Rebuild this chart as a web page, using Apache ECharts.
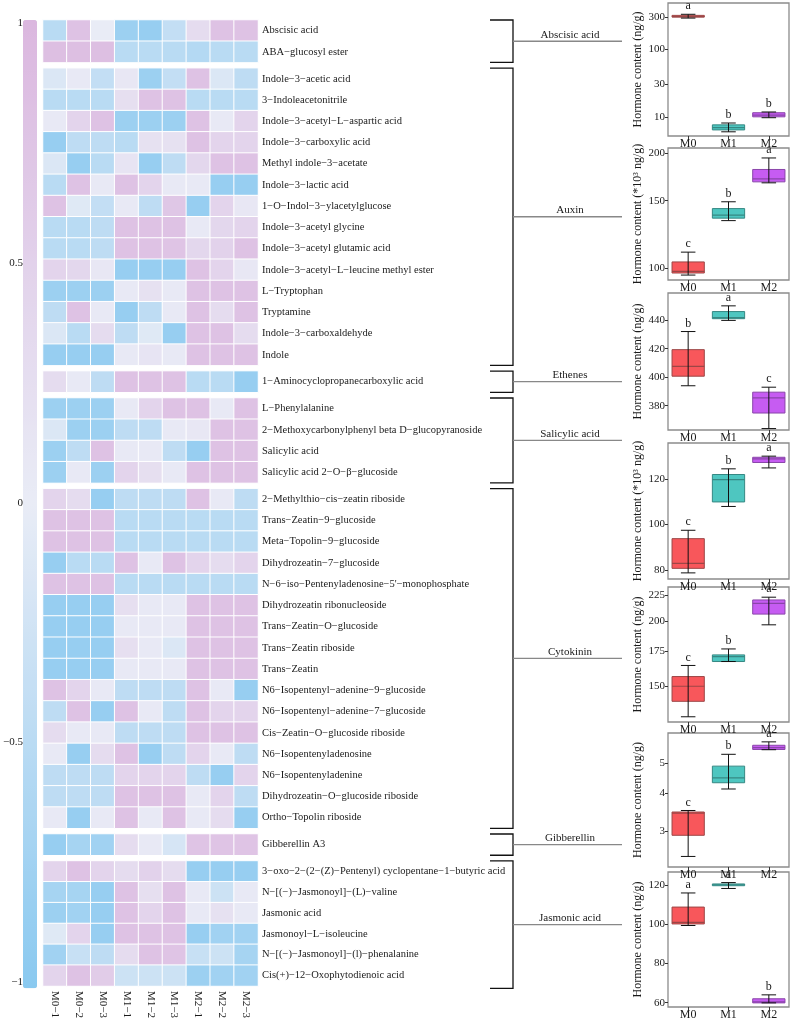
<!DOCTYPE html>
<html>
<head>
<meta charset="UTF-8">
<script src="https://cdn.jsdelivr.net/npm/echarts@6/dist/echarts.min.js"></script>
</head>
<body style="margin:0;background:#fff;">
<div id="main" style="width:792px;height:1021px"></div>
<script>
// ---- heatmap data ----
var samples = ['M0−1', 'M0−2', 'M0−3', 'M1−1', 'M1−2', 'M1−3', 'M2−1', 'M2−2', 'M2−3'];
var groups = ['Abscisic acid', 'Auxin', 'Ethenes', 'Salicylic acid', 'Cytokinin', 'Gibberellin', 'Jasmonic acid'];

var abaNames = ['Abscisic acid', 'ABA−glucosyl ester'];
var abaValues = [
  [-0.5, 0.8, 0.0, -0.8, -0.85, -0.4, 0.3, 0.8, 0.8],
  [0.85, 0.85, 0.85, -0.5, -0.5, -0.5, -0.55, -0.5, -0.5]
];
var auxinNames = ['Indole−3−acetic acid', '3−Indoleacetonitrile', 'Indole−3−acetyl−L−aspartic acid',
  'Indole−3−carboxylic acid', 'Methyl indole−3−acetate', 'Indole−3−lactic acid', '1−O−Indol−3−ylacetylglucose',
  'Indole−3−acetyl glycine', 'Indole−3−acetyl glutamic acid', 'Indole−3−acetyl−L−leucine methyl ester',
  'L−Tryptophan', 'Tryptamine', 'Indole−3−carboxaldehyde', 'Indole'];
var auxinValues = [
  [-0.15, 0.05, -0.4, 0.1, -0.8, -0.4, 0.8, -0.15, -0.45],
  [-0.5, -0.5, -0.5, 0.25, 0.8, 0.8, -0.5, -0.5, -0.5],
  [0.05, 0.45, 0.8, -0.8, -0.8, -0.8, 0.8, 0.05, 0.45],
  [-0.85, -0.45, -0.45, -0.5, 0.2, 0.2, 0.8, 0.45, 0.45],
  [-0.15, -0.85, -0.5, 0.15, -0.85, -0.45, 0.4, 0.8, 0.8],
  [-0.5, 0.8, 0.05, 0.8, 0.45, 0.05, 0.05, -0.85, -0.85],
  [0.8, -0.1, -0.4, 0.05, -0.45, 0.7, -0.85, 0.45, 0.1],
  [-0.5, -0.5, -0.45, 0.8, 0.8, 0.8, 0.05, 0.4, 0.45],
  [-0.5, -0.5, -0.45, 0.8, 0.8, 0.75, 0.4, 0.5, 0.8],
  [0.45, 0.4, 0.1, -0.85, -0.85, -0.85, 0.8, 0.45, 0.1],
  [-0.8, -0.8, -0.8, 0.05, 0.2, 0.05, 0.8, 0.8, 0.8],
  [-0.45, 0.8, 0.05, -0.85, -0.45, 0.05, 0.8, 0.3, 0.8],
  [-0.15, -0.5, 0.3, -0.45, -0.1, -0.85, 0.8, 0.8, 0.3],
  [-0.85, -0.85, -0.85, 0.05, 0.15, 0.05, 0.8, 0.8, 0.8]
];
var ethNames = ['1−Aminocyclopropanecarboxylic acid'];
var ethValues = [
  [0.3, 0.05, -0.45, 0.8, 0.8, 0.8, -0.5, -0.5, -0.85]
];
var saNames = ['L−Phenylalanine', '2−Methoxycarbonylphenyl beta D−glucopyranoside', 'Salicylic acid',
  'Salicylic acid 2−O−β−glucoside'];
var saValues = [
  [-0.8, -0.8, -0.8, 0.05, 0.45, 0.8, 0.8, 0.05, 0.8],
  [-0.15, -0.8, -0.8, -0.45, -0.45, 0.05, 0.1, 0.8, 0.8],
  [-0.8, -0.45, 0.8, 0.05, 0.05, -0.45, -0.85, 0.8, 0.8],
  [-0.8, 0.05, -0.8, 0.45, 0.25, 0.05, 0.8, 0.8, 0.8]
];
var ckNames = ['2−Methylthio−cis−zeatin riboside', 'Trans−Zeatin−9−glucoside', 'Meta−Topolin−9−glucoside',
  'Dihydrozeatin−7−glucoside', 'N−6−iso−Pentenyladenosine−5\'−monophosphate', 'Dihydrozeatin ribonucleoside',
  'Trans−Zeatin−O−glucoside', 'Trans−Zeatin riboside', 'Trans−Zeatin', 'N6−Isopentenyl−adenine−9−glucoside',
  'N6−Isopentenyl−adenine−7−glucoside', 'Cis−Zeatin−O−glucoside riboside', 'N6−Isopentenyladenosine',
  'N6−Isopentenyladenine', 'Dihydrozeatin−O−glucoside riboside', 'Ortho−Topolin riboside'];
var ckValues = [
  [0.45, 0.3, -0.85, -0.45, -0.45, -0.45, 0.8, 0.05, -0.45],
  [0.8, 0.8, 0.8, -0.5, -0.5, -0.5, -0.5, -0.5, -0.5],
  [0.8, 0.8, 0.8, -0.5, -0.5, -0.5, -0.5, -0.5, -0.5],
  [-0.85, -0.5, -0.5, 0.8, 0.05, 0.8, 0.45, 0.3, 0.45],
  [0.8, 0.8, 0.8, -0.5, -0.5, -0.5, -0.5, -0.5, -0.5],
  [-0.85, -0.85, -0.85, 0.25, 0.05, 0.05, 0.8, 0.8, 0.8],
  [-0.85, -0.85, -0.85, 0.05, 0.05, 0.05, 0.8, 0.8, 0.8],
  [-0.85, -0.85, -0.85, 0.25, 0.05, -0.15, 0.8, 0.8, 0.8],
  [-0.85, -0.85, -0.85, 0.05, 0.05, 0.05, 0.8, 0.8, 0.8],
  [0.8, 0.45, 0.05, -0.45, -0.45, -0.45, 0.8, 0.05, -0.85],
  [-0.45, 0.8, -0.85, 0.8, 0.05, -0.45, 0.8, 0.45, 0.45],
  [0.3, 0.05, 0.05, -0.45, -0.45, -0.45, 0.8, 0.8, 0.8],
  [0.05, -0.85, 0.3, 0.8, -0.85, -0.45, 0.45, 0.05, -0.45],
  [-0.45, -0.45, -0.45, 0.45, 0.45, 0.45, -0.45, -0.85, 0.45],
  [-0.45, -0.45, -0.45, 0.8, 0.8, 0.8, 0.05, 0.45, -0.45],
  [0.05, -0.85, 0.05, 0.8, 0.05, 0.8, 0.05, 0.3, -0.85]
];
var gaNames = ['Gibberellin A3'];
var gaValues = [
  [-0.85, -0.7, -0.75, 0.3, 0.05, -0.2, 0.75, 0.75, 0.75]
];
var jaNames = ['3−oxo−2−(2−(Z)−Pentenyl) cyclopentane−1−butyric acid', 'N−[(−)−Jasmonoyl]−(L)−valine',
  'Jasmonic acid', 'Jasmonoyl−L−isoleucine', 'N−[(−)−Jasmonoyl]−(l)−phenalanine', 'Cis(+)−12−Oxophytodienoic acid'];
var jaValues = [
  [0.45, 0.8, 0.45, 0.3, 0.5, 0.3, -0.85, -0.85, -0.85],
  [-0.7, -0.7, -0.85, 0.8, 0.25, 0.8, 0.05, -0.3, 0.05],
  [-0.8, -0.75, -0.85, 0.8, 0.45, 0.8, 0.05, 0.2, 0.05],
  [-0.1, 0.45, -0.85, 0.8, 0.8, 0.8, -0.85, -0.75, -0.75],
  [-0.75, -0.35, -0.45, 0.3, 0.8, 0.75, -0.35, -0.3, -0.7],
  [0.45, 0.8, 0.6, -0.3, -0.3, -0.3, -0.8, -0.75, -0.75]
];

// ---- box plot data: [min, Q1, median, Q3, max] for M0, M1, M2 ----
var treatments = ['M0', 'M1', 'M2'];
var abaBox = [[290, 300, 305, 318, 330], [6.0, 6.4, 6.9, 7.6, 8.1], [9.7, 10.0, 10.6, 11.5, 11.8]];
var auxinBox = [[95.8, 97, 98, 103.7, 110], [133, 135, 137.5, 143, 149], [167, 168, 171, 181, 194]];
var ethBox = [[394, 400.7, 407.6, 419.3, 432], [439.8, 441, 441.7, 446, 450], [364, 374.9, 385.5, 389.5, 393]];
var saBox = [[78.7, 80.7, 82.9, 93.8, 97.5], [108, 110, 119.8, 122.1, 124.6], [125, 127.4, 129, 129.7, 130.2]];
var ckBox = [[131, 140.3, 150, 156.6, 164.5], [167.4, 167.4, 171, 172.4, 177], [197, 206.6, 216.7, 220, 222.7]];
var gaBox = [[2.47, 2.9, 3.43, 3.46, 3.5], [4.12, 4.32, 4.48, 4.9, 5.36], [5.55, 5.56, 5.64, 5.74, 5.89]];
var jaBox = [[99.4, 100.2, 101, 108.8, 116], [118.3, 119.7, 120.2, 120.6, 121.3], [59.9, 59.9, 60.4, 62, 64]];
var abaLetters = ['a', 'b', 'b'];
var auxinLetters = ['c', 'b', 'a'];
var ethLetters = ['b', 'a', 'c'];
var saLetters = ['c', 'b', 'a'];
var ckLetters = ['c', 'b', 'a'];
var gaLetters = ['c', 'b', 'a'];
var jaLetters = ['a', 'a', 'b'];
var abaTicks = [10, 30, 100, 300];
var auxinTicks = [100, 150, 200];
var ethTicks = [380, 400, 420, 440];
var saTicks = [80, 100, 120];
var ckTicks = [150, 175, 200, 225];
var gaTicks = [3, 4, 5];
var jaTicks = [60, 80, 100, 120];

// ---- layout ----
var FONT = '"Liberation Serif", "Times New Roman", serif';
var heatLeft = 43, heatW = 215, heatTop = 20, rowH = 21.23, gapH = 5.7;
var heatGroups = [
  [abaNames, abaValues], [auxinNames, auxinValues], [ethNames, ethValues], [saNames, saValues],
  [ckNames, ckValues], [gaNames, gaValues], [jaNames, jaValues]
];
var boxPanels = [
  {box: abaBox, letters: abaLetters, ticks: abaTicks, log: true, min: 5.2, max: 485, name: 'Hormone content (ng/g)', top: 3, h: 133},
  {box: auxinBox, letters: auxinLetters, ticks: auxinTicks, log: true, min: 93, max: 206, name: 'Hormone content (*10³ ng/g)', top: 148, h: 132},
  {box: ethBox, letters: ethLetters, ticks: ethTicks, log: false, min: 363, max: 459, name: 'Hormone content (ng/g)', top: 293, h: 137},
  {box: saBox, letters: saLetters, ticks: saTicks, log: false, min: 76, max: 136, name: 'Hormone content (*10³ ng/g)', top: 443, h: 136},
  {box: ckBox, letters: ckLetters, ticks: ckTicks, log: true, min: 128, max: 233, name: 'Hormone content (ng/g)', top: 587, h: 135},
  {box: gaBox, letters: gaLetters, ticks: gaTicks, log: true, min: 2.28, max: 6.3, name: 'Hormone content (ng/g)', top: 733, h: 134},
  {box: jaBox, letters: jaLetters, ticks: jaTicks, log: false, min: 57.8, max: 126.7, name: 'Hormone content (ng/g)', top: 872, h: 138}
];
var boxFill = ['#F8575B', '#4EC6C0', '#C65CF2'];
var boxLine = ['#9c4646', '#368883', '#8a45aa'];

var grids = [], xAxes = [], yAxes = [], series = [], graphics = [];
var y = heatTop, groupSpans = [];
heatGroups.forEach(function (g, gi) {
  var names = g[0], vals = g[1];
  var h = names.length * rowH;
  groupSpans.push([y, y + h]);
  grids.push({left: heatLeft, top: y, width: heatW, height: h});
  var last = gi === heatGroups.length - 1;
  xAxes.push({
    type: 'category', gridIndex: gi, data: samples, position: 'bottom',
    axisLine: {show: false}, axisTick: {show: false},
    axisLabel: {show: last, rotate: -90, margin: 5, fontFamily: FONT, fontSize: 11, color: '#1a1a1a'}
  });
  yAxes.push({
    type: 'category', gridIndex: gi, data: names, inverse: true, position: 'right',
    axisLine: {show: false}, axisTick: {show: false},
    axisLabel: {margin: 4, fontFamily: FONT, fontSize: 10.5, color: '#1a1a1a'}
  });
  var data = [];
  vals.forEach(function (row, r) {
    row.forEach(function (v, c) { data.push([c, r, v]); });
  });
  series.push({
    type: 'heatmap', xAxisIndex: gi, yAxisIndex: gi, data: data,
    itemStyle: {borderColor: '#fff', borderWidth: 1},
    emphasis: {disabled: true}
  });
  y += h + gapH;
});
var heatBottom = groupSpans[groupSpans.length - 1][1];

// colour bar axis
var cbIdx = grids.length;
grids.push({left: 23, top: heatTop + 3, width: 14, height: heatBottom - heatTop - 9});
xAxes.push({type: 'value', gridIndex: cbIdx, show: false});
yAxes.push({
  type: 'value', gridIndex: cbIdx, min: -1, max: 1, interval: 0.5, position: 'left',
  axisLine: {show: false}, axisTick: {show: false}, splitLine: {show: false},
  axisLabel: {margin: 8, fontFamily: FONT, fontSize: 11, color: '#1a1a1a',
    formatter: function (v) { return String(v).replace('-', '−'); }}
});

// box plot panels
function renderBox(params, api) {
  var x = api.value(0);
  var lo = api.coord([x, api.value(1)]);
  var q1 = api.coord([x, api.value(2)]);
  var md = api.coord([x, api.value(3)]);
  var q3 = api.coord([x, api.value(4)]);
  var hi = api.coord([x, api.value(5)]);
  var bw = api.size([1, 0])[0] * 0.8;
  var cw = bw * 0.45;
  var cx = lo[0];
  var i = params.dataIndex;
  var letter = params.seriesName.split(',')[i];
  return {
    type: 'group',
    children: [
      {type: 'rect', shape: {x: cx - bw / 2, y: q3[1], width: bw, height: Math.max(q1[1] - q3[1], 1)},
        style: {fill: boxFill[i], stroke: boxLine[i], lineWidth: 1}},
      {type: 'line', shape: {x1: cx - bw / 2, y1: md[1], x2: cx + bw / 2, y2: md[1]},
        style: {stroke: boxLine[i], lineWidth: 1.2}},
      {type: 'line', shape: {x1: cx, y1: lo[1], x2: cx, y2: hi[1]}, style: {stroke: '#111', lineWidth: 1}},
      {type: 'line', shape: {x1: cx - cw / 2, y1: lo[1], x2: cx + cw / 2, y2: lo[1]}, style: {stroke: '#111', lineWidth: 1}},
      {type: 'line', shape: {x1: cx - cw / 2, y1: hi[1], x2: cx + cw / 2, y2: hi[1]}, style: {stroke: '#111', lineWidth: 1}},
      {type: 'text', style: {text: letter, x: cx, y: hi[1] - 2, align: 'center', verticalAlign: 'bottom',
        textAlign: 'center', textVerticalAlign: 'bottom', font: '12px ' + FONT, fill: '#1a1a1a'}}
    ]
  };
}

boxPanels.forEach(function (p) {
  var gi = grids.length;
  grids.push({left: 668, top: p.top, width: 121, height: p.h, show: true, borderColor: '#8c8c8c', borderWidth: 1.3});
  xAxes.push({
    type: 'category', gridIndex: gi, data: treatments,
    axisLine: {show: false}, axisTick: {show: true, alignWithLabel: true, length: 3, lineStyle: {color: '#333'}},
    axisLabel: {margin: 2, fontFamily: FONT, fontSize: 12, color: '#1a1a1a'}
  });
  yAxes.push({
    type: p.log ? 'log' : 'value', logBase: 10, gridIndex: gi, min: p.min, max: p.max,
    name: p.name, nameLocation: 'middle', nameRotate: 90, nameGap: 24,
    nameTextStyle: {fontFamily: FONT, fontSize: 12, color: '#1a1a1a'},
    axisLine: {show: false}, splitLine: {show: false},
    axisTick: {show: true, length: 3, lineStyle: {color: '#333'}, customValues: p.ticks},
    axisLabel: {margin: 3, fontFamily: FONT, fontSize: 11, color: '#1a1a1a', customValues: p.ticks}
  });
  var data = p.box.map(function (b, i) { return [i].concat(b); });
  series.push({
    type: 'custom', name: p.letters.join(','), xAxisIndex: gi, yAxisIndex: gi,
    renderItem: renderBox, data: data, clip: false, silent: true,
    encode: {x: 0, y: [1, 2, 3, 4, 5]}
  });
});

// brackets and group labels
groupSpans.forEach(function (s, gi) {
  var mid = (s[0] + s[1]) / 2;
  graphics.push({type: 'polyline', shape: {points: [[490, s[0]], [513, s[0]], [513, s[1]], [490, s[1]]]},
    style: {stroke: '#111', lineWidth: 1.3, fill: null}});
  graphics.push({type: 'line', shape: {x1: 513, y1: mid, x2: 622, y2: mid}, style: {stroke: '#888', lineWidth: 1.3}});
  graphics.push({type: 'text', x: 570, y: mid - 1,
    style: {text: groups[gi], align: 'center', verticalAlign: 'bottom', textAlign: 'center', textVerticalAlign: 'bottom',
      font: '11px ' + FONT, fill: '#1a1a1a'}});
});

var myChart = echarts.init(document.getElementById('main'), null, {renderer: 'canvas'});
myChart.setOption({
  animation: false,
  backgroundColor: '#fff',
  grid: grids,
  xAxis: xAxes,
  yAxis: yAxes,
  visualMap: {
    type: 'continuous', min: -1, max: 1, seriesIndex: [0, 1, 2, 3, 4, 5, 6],
    left: 23, top: heatTop, itemWidth: 14, itemHeight: heatBottom - heatTop,
    calculable: false, text: null, showLabel: false, padding: 0, hoverLink: false,
    inRange: {color: ['#89C9F0', '#E9ECF6', '#DBB7DF']}
  },
  graphic: graphics,
  series: series
});
</script>
</body>
</html>
